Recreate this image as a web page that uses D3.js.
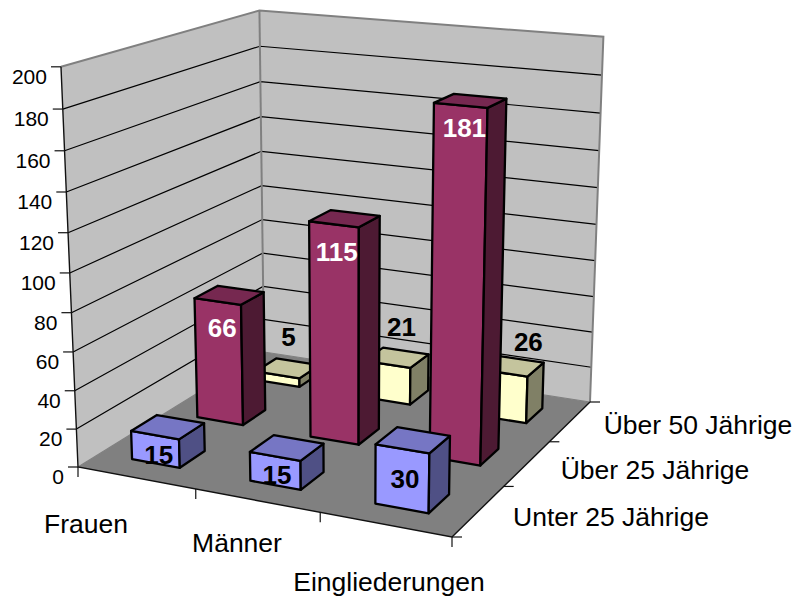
<!DOCTYPE html>
<html><head><meta charset="utf-8">
<script src="https://cdnjs.cloudflare.com/ajax/libs/d3/7.8.5/d3.min.js"></script>
<style>html,body{margin:0;padding:0;background:#fff}svg{display:block}text{font-family:"Liberation Sans",Arial,sans-serif}</style>
</head><body>
<svg id="c" width="799" height="596"></svg>
<script>
const categories = ["Frauen", "Männer", "Eingliederungen"];
const seriesNames = ["Unter 25 Jährige", "Über 25 Jährige", "Über 50 Jährige"];
const unter25 = [15, 15, 30];
const ueber25 = [66, 115, 181];
const ueber50 = [5, 21, 26];
const valueTicks = [0, 20, 40, 60, 80, 100, 120, 140, 160, 180, 200];

const seriesValues = [unter25, ueber25, ueber50];
const faceColors = [
  {front:"#9999FF", top:"#7676C4", side:"#4F5085", text:"#000"},
  {front:"#993366", top:"#762850", side:"#4D1A33", text:"#fff"},
  {front:"#FFFFCC", top:"#C4C49D", side:"#808066", text:"#000"}
];
// label offsets from each bar's top centre, by series then category
const labelNudge = [
  [[-9,28],[-10,27],[-8,39]],
  [[-7,33],[-8,33],[-6,27]],
  [[1,-31],[5,-31],[17,-24]]
];
const catLabelPos = [[86,524],[237,543],[389,582]];
const serLabelPos = [[611,517],[655,470],[698,425]];

// camera calibration: floor corners and wall tops, screen px
const A=[78,467], B=[452,537], C=[590,402], D=[264,352];
const Atop=[62,67], Dtop=[258,12], Ctop=[604,35];

function homography(p00,p10,p11,p01){
  const dx1=p10[0]-p11[0], dx2=p01[0]-p11[0], sx=p00[0]-p10[0]+p11[0]-p01[0];
  const dy1=p10[1]-p11[1], dy2=p01[1]-p11[1], sy=p00[1]-p10[1]+p11[1]-p01[1];
  const det=dx1*dy2-dx2*dy1;
  const g=(sx*dy2-dx2*sy)/det, h=(dx1*sy-sx*dy1)/det;
  return [p10[0]-p00[0]+g*p10[0], p01[0]-p00[0]+h*p01[0], p00[0],
          p10[1]-p00[1]+g*p10[1], p01[1]-p00[1]+h*p01[1], p00[1], g, h, 1];
}
const H=homography(A,B,C,D);
function floorH(u,v){return [H[0]*u+H[1]*v+H[2], H[3]*u+H[4]*v+H[5], H[6]*u+H[7]*v+1];}
function solve3(M,r){
  M=M.map((row,i)=>[...row,r[i]]);
  for(let i=0;i<3;i++){
    let p=i; for(let k=i+1;k<3;k++) if(Math.abs(M[k][i])>Math.abs(M[p][i])) p=k;
    [M[i],M[p]]=[M[p],M[i]];
    for(let k=0;k<3;k++) if(k!==i){const f=M[k][i]/M[i][i]; for(let j=i;j<4;j++) M[k][j]-=f*M[i][j];}
  }
  return M.map((row,i)=>row[3]/row[i]);
}
// least squares for the height column
const rows=[],rhs=[];
[[0,0,Atop],[0,1,Dtop],[1,1,Ctop]].forEach(([u,v,t])=>{
  const f=floorH(u,v);
  rows.push([1,0,-t[0]]); rhs.push(t[0]*f[2]-f[0]);
  rows.push([0,1,-t[1]]); rhs.push(t[1]*f[2]-f[1]);
});
const NtN=[0,1,2].map(i=>[0,1,2].map(j=>d3.sum(rows,r=>r[i]*r[j])));
const Ntb=[0,1,2].map(i=>d3.sum(rows,(r,k)=>r[i]*rhs[k]));
const [hx,hy,hw]=solve3(NtN,Ntb);
function P(u,v,w){
  const f=floorH(u,v);
  const W=f[2]+hw*w;
  return [(f[0]+hx*w)/W,(f[1]+hy*w)/W];
}

const uScale=d3.scaleBand().domain(categories).range([-0.004,0.996]).paddingInner(0.59).paddingOuter(0.29);
const vScale=d3.scaleBand().domain(seriesNames).range([0,1]).paddingInner(0.62).paddingOuter(0.31);
const wScale=d3.scaleLinear().domain([0,200]).range([0,1]);

const svg=d3.select("#c");
const poly=pts=>d3.line()(pts)+"Z";
const g=svg.append("g");

// walls and floor
g.append("path").attr("d",poly([P(0,0,0),P(0,1,0),P(0,1,1),P(0,0,1)])).attr("fill","#C0C0C0");
g.append("path").attr("d",poly([P(0,1,0),P(1,1,0),P(1,1,1),P(0,1,1)])).attr("fill","#C0C0C0");
g.append("path").attr("d",poly([P(0,0,0),P(1,0,0),P(1,1,0),P(0,1,0)])).attr("fill","#808080");

// gridlines
valueTicks.filter(t=>t>0&&t<200).forEach(t=>{
  const w=wScale(t);
  g.append("path").attr("d",d3.line()([P(0,0,w),P(0,1,w),P(1,1,w)]))
    .attr("fill","none").attr("stroke","#000").attr("stroke-width",1.2);
});
// wall outline
g.append("path").attr("d",d3.line()([P(0,0,1),P(0,1,1),P(1,1,1),P(1,1,0)]))
  .attr("fill","none").attr("stroke","#808080").attr("stroke-width",2);
g.append("path").attr("d",d3.line()([P(0,1,0),P(0,1,1)])).attr("stroke","#808080").attr("stroke-width",2);
g.append("path").attr("d",d3.line()([P(0,0,0),P(0,1,0)])).attr("stroke","#808080").attr("stroke-width",1.2);
g.append("path").attr("d",d3.line()([P(0,1,0),P(1,1,0)])).attr("stroke","#808080").attr("stroke-width",1.2);
// axes
g.append("path").attr("d",d3.line()([P(0,0,1),P(0,0,0),P(1,0,0),P(1,1,0)]))
  .attr("fill","none").attr("stroke","#111").attr("stroke-width",1.4);
valueTicks.forEach(t=>{
  const p=P(0,0,wScale(t));
  g.append("line").attr("x1",p[0]-10).attr("x2",p[0]).attr("y1",p[1]).attr("y2",p[1]).attr("stroke","#111").attr("stroke-width",1.2);
  g.append("text").attr("x",p[0]-14).attr("y",p[1]+17).attr("text-anchor","end").attr("font-size",21).text(t);
});
d3.range(4).forEach(i=>{
  const a=P(i/3,0,0);
  g.append("line").attr("x1",a[0]).attr("x2",a[0]).attr("y1",a[1]).attr("y2",a[1]+10).attr("stroke","#111").attr("stroke-width",1.2);
  const b=P(1,i/3,0);
  g.append("line").attr("x1",b[0]).attr("x2",b[0]+10).attr("y1",b[1]).attr("y2",b[1]).attr("stroke","#111").attr("stroke-width",1.2);
});
categories.forEach((c,i)=>g.append("text").attr("x",catLabelPos[i][0]).attr("y",catLabelPos[i][1]+9).attr("text-anchor","middle").attr("font-size",26.5).text(c));
seriesNames.forEach((s,i)=>g.append("text").attr("x",serLabelPos[i][0]).attr("y",serLabelPos[i][1]+9).attr("text-anchor","middle").attr("font-size",26.5).text(s));

// bars, back row first
d3.range(2,-1,-1).forEach(si=>{
  const v0=vScale(seriesNames[si]), v1=v0+vScale.bandwidth(), st=faceColors[si];
  categories.forEach((c,ci)=>{
    const u0=uScale(c), u1=u0+uScale.bandwidth(), w=wScale(seriesValues[si][ci]);
    const bar=g.append("g").attr("stroke","#000").attr("stroke-width",2.3).attr("stroke-linejoin","round");
    bar.append("path").attr("d",poly([P(u0,v0,0),P(u1,v0,0),P(u1,v0,w),P(u0,v0,w)])).attr("fill",st.front);
    bar.append("path").attr("d",poly([P(u1,v0,0),P(u1,v1,0),P(u1,v1,w),P(u1,v0,w)])).attr("fill",st.side);
    bar.append("path").attr("d",poly([P(u0,v0,w),P(u1,v0,w),P(u1,v1,w),P(u0,v1,w)])).attr("fill",st.top);
  });
});
// value labels on top of all bars
d3.range(2,-1,-1).forEach(si=>{
  const st=faceColors[si];
  categories.forEach((c,ci)=>{
    const val=seriesValues[si][ci], n=labelNudge[si][ci];
    const p=P(uScale(c)+uScale.bandwidth()/2,vScale(seriesNames[si])+vScale.bandwidth()/2,wScale(val));
    g.append("text").attr("x",p[0]+n[0]).attr("y",p[1]+n[1]+9).attr("text-anchor","middle")
      .attr("font-size",26).attr("font-weight","bold").attr("fill",st.text).text(val);
  });
});
</script>
</body></html>
